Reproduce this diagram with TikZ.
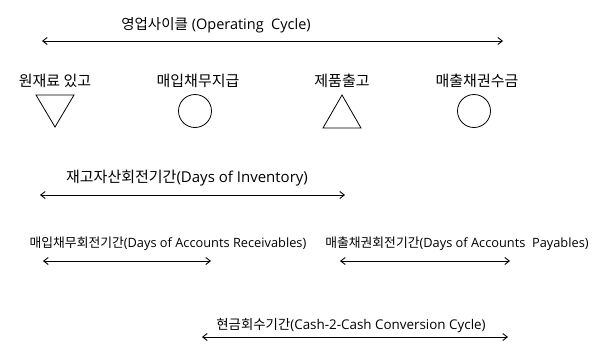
\documentclass[tikz,border=0pt]{standalone}
\usepackage{fontspec}
\setmainfont{Open Sans}
\newfontfamily\kr{Noto Sans CJK KR}
\usetikzlibrary{arrows.meta}
\begin{document}
\begin{tikzpicture}[x=1pt,y=-1pt,
  lbl/.style={inner sep=0pt,anchor=center},
  span/.style={{Straight Barb[length=4.5pt,width=7pt]}-{Straight Barb[length=4.5pt,width=7pt]},line width=0.9pt},
  symb/.style={draw,line width=0.8pt}]
\useasboundingbox[fill=white] (0,0) rectangle (599,343);
% title and operating cycle arrow
\node[lbl,font=\fontsize{14.5}{17}\selectfont] (title) at (216,25) {{\kr 영업사이클} (Operating\ \ Cycle)};
\coordinate (oc1) at (42,41); \coordinate (oc2) at (503,41);
\draw[span] (oc1) -- (oc2);
% event labels
\node[lbl,font=\fontsize{15}{17}\selectfont\kr] (e1) at (55,81) {원재료 있고};
\node[lbl,font=\fontsize{15}{17}\selectfont\kr] (e2) at (198,81) {매입채무지급};
\node[lbl,font=\fontsize{15}{17}\selectfont\kr] (e3) at (342,81) {제품출고};
\node[lbl,font=\fontsize{15}{17}\selectfont\kr] (e4) at (477,81) {매출채권수금};
% symbols
\draw[symb] (36,95) -- (74,95) -- (55,127) -- cycle;
\node[symb,circle,minimum size=33pt,inner sep=0pt] (c1) at (195,111) {};
\draw[symb] (323,128) -- (361,128) -- (342,95) -- cycle;
\node[symb,circle,minimum size=33pt,inner sep=0pt] (c2) at (474,111) {};
% days of inventory
\node[lbl,font=\fontsize{15}{17}\selectfont] (inv) at (187,178) {{\kr 재고자산회전기간}(Days of Inventory)};
\coordinate (in1) at (40,195); \coordinate (in2) at (345,195);
\draw[span] (in1) -- (in2);
% payables / receivables
\node[lbl,font=\fontsize{12.8}{15}\selectfont] (ap) at (168,244) {{\kr 매입채무회전기간}(Days of Accounts Receivables)};
\coordinate (ap1) at (43,261); \coordinate (ap2) at (211,261);
\draw[span] (ap1) -- (ap2);
\node[lbl,font=\fontsize{12.8}{15}\selectfont] (ar) at (457,244) {{\kr 매출채권회전기간}(Days of Accounts\ \ Payables)};
\coordinate (ar1) at (340,261); \coordinate (ar2) at (510,261);
\draw[span] (ar1) -- (ar2);
% cash conversion cycle
\node[lbl,font=\fontsize{13.4}{16}\selectfont] (ccc) at (351,326) {{\kr 현금회수기간}(Cash-2-Cash Conversion Cycle)};
\coordinate (cc1) at (202,337); \coordinate (cc2) at (508,337);
\draw[span] (cc1) -- (cc2);
\end{tikzpicture}
\end{document}
